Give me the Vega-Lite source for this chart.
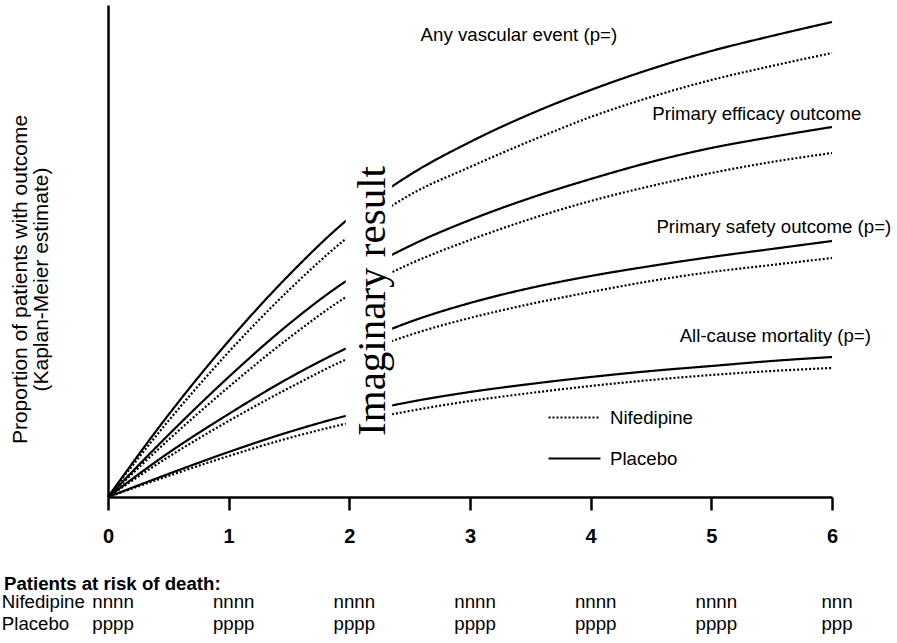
{
  "$schema": "https://vega.github.io/schema/vega-lite/v6.json",
  "width": 724,
  "height": 492,
  "autosize": "none",
  "padding": {"left": 108, "top": 5, "right": 65, "bottom": 146},
  "background": "white",
  "config": {"view": {"stroke": null}, "font": "Liberation Sans"},
  "datasets": {
    "curves": [
      {"year": 0, "pct": 0, "outcome": "Any vascular event", "arm": "Placebo"},
      {"year": 0.5, "pct": 8.2, "outcome": "Any vascular event", "arm": "Placebo"},
      {"year": 1, "pct": 15.6, "outcome": "Any vascular event", "arm": "Placebo"},
      {"year": 1.5, "pct": 22.2, "outcome": "Any vascular event", "arm": "Placebo"},
      {"year": 2, "pct": 27.9, "outcome": "Any vascular event", "arm": "Placebo"},
      {"year": 2.5, "pct": 32.2, "outcome": "Any vascular event", "arm": "Placebo"},
      {"year": 3, "pct": 35.5, "outcome": "Any vascular event", "arm": "Placebo"},
      {"year": 3.5, "pct": 38.3, "outcome": "Any vascular event", "arm": "Placebo"},
      {"year": 4, "pct": 40.7, "outcome": "Any vascular event", "arm": "Placebo"},
      {"year": 4.5, "pct": 42.8, "outcome": "Any vascular event", "arm": "Placebo"},
      {"year": 5, "pct": 44.6, "outcome": "Any vascular event", "arm": "Placebo"},
      {"year": 5.5, "pct": 46.1, "outcome": "Any vascular event", "arm": "Placebo"},
      {"year": 6, "pct": 47.5, "outcome": "Any vascular event", "arm": "Placebo"},
      {"year": 0, "pct": 0, "outcome": "Any vascular event", "arm": "Nifedipine"},
      {"year": 0.5, "pct": 7.6, "outcome": "Any vascular event", "arm": "Nifedipine"},
      {"year": 1, "pct": 14.5, "outcome": "Any vascular event", "arm": "Nifedipine"},
      {"year": 1.5, "pct": 20.7, "outcome": "Any vascular event", "arm": "Nifedipine"},
      {"year": 2, "pct": 26.1, "outcome": "Any vascular event", "arm": "Nifedipine"},
      {"year": 2.5, "pct": 30.2, "outcome": "Any vascular event", "arm": "Nifedipine"},
      {"year": 3, "pct": 33.0, "outcome": "Any vascular event", "arm": "Nifedipine"},
      {"year": 3.5, "pct": 35.6, "outcome": "Any vascular event", "arm": "Nifedipine"},
      {"year": 4, "pct": 38.0, "outcome": "Any vascular event", "arm": "Nifedipine"},
      {"year": 4.5, "pct": 40.0, "outcome": "Any vascular event", "arm": "Nifedipine"},
      {"year": 5, "pct": 41.7, "outcome": "Any vascular event", "arm": "Nifedipine"},
      {"year": 5.5, "pct": 43.1, "outcome": "Any vascular event", "arm": "Nifedipine"},
      {"year": 6, "pct": 44.4, "outcome": "Any vascular event", "arm": "Nifedipine"},
      {"year": 0, "pct": 0, "outcome": "Primary efficacy outcome", "arm": "Placebo"},
      {"year": 0.5, "pct": 6.2, "outcome": "Primary efficacy outcome", "arm": "Placebo"},
      {"year": 1, "pct": 12.0, "outcome": "Primary efficacy outcome", "arm": "Placebo"},
      {"year": 1.5, "pct": 17.3, "outcome": "Primary efficacy outcome", "arm": "Placebo"},
      {"year": 2, "pct": 21.8, "outcome": "Primary efficacy outcome", "arm": "Placebo"},
      {"year": 2.5, "pct": 25.1, "outcome": "Primary efficacy outcome", "arm": "Placebo"},
      {"year": 3, "pct": 27.7, "outcome": "Primary efficacy outcome", "arm": "Placebo"},
      {"year": 3.5, "pct": 29.9, "outcome": "Primary efficacy outcome", "arm": "Placebo"},
      {"year": 4, "pct": 31.8, "outcome": "Primary efficacy outcome", "arm": "Placebo"},
      {"year": 4.5, "pct": 33.5, "outcome": "Primary efficacy outcome", "arm": "Placebo"},
      {"year": 5, "pct": 34.9, "outcome": "Primary efficacy outcome", "arm": "Placebo"},
      {"year": 5.5, "pct": 36.0, "outcome": "Primary efficacy outcome", "arm": "Placebo"},
      {"year": 6, "pct": 37.0, "outcome": "Primary efficacy outcome", "arm": "Placebo"},
      {"year": 0, "pct": 0, "outcome": "Primary efficacy outcome", "arm": "Nifedipine"},
      {"year": 0.5, "pct": 5.7, "outcome": "Primary efficacy outcome", "arm": "Nifedipine"},
      {"year": 1, "pct": 11.0, "outcome": "Primary efficacy outcome", "arm": "Nifedipine"},
      {"year": 1.5, "pct": 15.9, "outcome": "Primary efficacy outcome", "arm": "Nifedipine"},
      {"year": 2, "pct": 20.2, "outcome": "Primary efficacy outcome", "arm": "Nifedipine"},
      {"year": 2.5, "pct": 23.3, "outcome": "Primary efficacy outcome", "arm": "Nifedipine"},
      {"year": 3, "pct": 25.7, "outcome": "Primary efficacy outcome", "arm": "Nifedipine"},
      {"year": 3.5, "pct": 27.8, "outcome": "Primary efficacy outcome", "arm": "Nifedipine"},
      {"year": 4, "pct": 29.6, "outcome": "Primary efficacy outcome", "arm": "Nifedipine"},
      {"year": 4.5, "pct": 31.1, "outcome": "Primary efficacy outcome", "arm": "Nifedipine"},
      {"year": 5, "pct": 32.4, "outcome": "Primary efficacy outcome", "arm": "Nifedipine"},
      {"year": 5.5, "pct": 33.5, "outcome": "Primary efficacy outcome", "arm": "Nifedipine"},
      {"year": 6, "pct": 34.4, "outcome": "Primary efficacy outcome", "arm": "Nifedipine"},
      {"year": 0, "pct": 0, "outcome": "Primary safety outcome", "arm": "Placebo"},
      {"year": 0.5, "pct": 4.4, "outcome": "Primary safety outcome", "arm": "Placebo"},
      {"year": 1, "pct": 8.3, "outcome": "Primary safety outcome", "arm": "Placebo"},
      {"year": 1.5, "pct": 11.9, "outcome": "Primary safety outcome", "arm": "Placebo"},
      {"year": 2, "pct": 15.0, "outcome": "Primary safety outcome", "arm": "Placebo"},
      {"year": 2.5, "pct": 17.5, "outcome": "Primary safety outcome", "arm": "Placebo"},
      {"year": 3, "pct": 19.4, "outcome": "Primary safety outcome", "arm": "Placebo"},
      {"year": 3.5, "pct": 20.9, "outcome": "Primary safety outcome", "arm": "Placebo"},
      {"year": 4, "pct": 22.1, "outcome": "Primary safety outcome", "arm": "Placebo"},
      {"year": 4.5, "pct": 23.1, "outcome": "Primary safety outcome", "arm": "Placebo"},
      {"year": 5, "pct": 24.0, "outcome": "Primary safety outcome", "arm": "Placebo"},
      {"year": 5.5, "pct": 24.8, "outcome": "Primary safety outcome", "arm": "Placebo"},
      {"year": 6, "pct": 25.6, "outcome": "Primary safety outcome", "arm": "Placebo"},
      {"year": 0, "pct": 0, "outcome": "Primary safety outcome", "arm": "Nifedipine"},
      {"year": 0.5, "pct": 4.0, "outcome": "Primary safety outcome", "arm": "Nifedipine"},
      {"year": 1, "pct": 7.6, "outcome": "Primary safety outcome", "arm": "Nifedipine"},
      {"year": 1.5, "pct": 10.9, "outcome": "Primary safety outcome", "arm": "Nifedipine"},
      {"year": 2, "pct": 13.9, "outcome": "Primary safety outcome", "arm": "Nifedipine"},
      {"year": 2.5, "pct": 16.2, "outcome": "Primary safety outcome", "arm": "Nifedipine"},
      {"year": 3, "pct": 17.9, "outcome": "Primary safety outcome", "arm": "Nifedipine"},
      {"year": 3.5, "pct": 19.3, "outcome": "Primary safety outcome", "arm": "Nifedipine"},
      {"year": 4, "pct": 20.5, "outcome": "Primary safety outcome", "arm": "Nifedipine"},
      {"year": 4.5, "pct": 21.6, "outcome": "Primary safety outcome", "arm": "Nifedipine"},
      {"year": 5, "pct": 22.5, "outcome": "Primary safety outcome", "arm": "Nifedipine"},
      {"year": 5.5, "pct": 23.2, "outcome": "Primary safety outcome", "arm": "Nifedipine"},
      {"year": 6, "pct": 23.9, "outcome": "Primary safety outcome", "arm": "Nifedipine"},
      {"year": 0, "pct": 0, "outcome": "All-cause mortality", "arm": "Placebo"},
      {"year": 0.5, "pct": 2.3, "outcome": "All-cause mortality", "arm": "Placebo"},
      {"year": 1, "pct": 4.5, "outcome": "All-cause mortality", "arm": "Placebo"},
      {"year": 1.5, "pct": 6.5, "outcome": "All-cause mortality", "arm": "Placebo"},
      {"year": 2, "pct": 8.2, "outcome": "All-cause mortality", "arm": "Placebo"},
      {"year": 2.5, "pct": 9.5, "outcome": "All-cause mortality", "arm": "Placebo"},
      {"year": 3, "pct": 10.5, "outcome": "All-cause mortality", "arm": "Placebo"},
      {"year": 3.5, "pct": 11.3, "outcome": "All-cause mortality", "arm": "Placebo"},
      {"year": 4, "pct": 12.0, "outcome": "All-cause mortality", "arm": "Placebo"},
      {"year": 4.5, "pct": 12.6, "outcome": "All-cause mortality", "arm": "Placebo"},
      {"year": 5, "pct": 13.1, "outcome": "All-cause mortality", "arm": "Placebo"},
      {"year": 5.5, "pct": 13.6, "outcome": "All-cause mortality", "arm": "Placebo"},
      {"year": 6, "pct": 14.0, "outcome": "All-cause mortality", "arm": "Placebo"},
      {"year": 0, "pct": 0, "outcome": "All-cause mortality", "arm": "Nifedipine"},
      {"year": 0.5, "pct": 2.1, "outcome": "All-cause mortality", "arm": "Nifedipine"},
      {"year": 1, "pct": 4.1, "outcome": "All-cause mortality", "arm": "Nifedipine"},
      {"year": 1.5, "pct": 5.9, "outcome": "All-cause mortality", "arm": "Nifedipine"},
      {"year": 2, "pct": 7.4, "outcome": "All-cause mortality", "arm": "Nifedipine"},
      {"year": 2.5, "pct": 8.6, "outcome": "All-cause mortality", "arm": "Nifedipine"},
      {"year": 3, "pct": 9.6, "outcome": "All-cause mortality", "arm": "Nifedipine"},
      {"year": 3.5, "pct": 10.4, "outcome": "All-cause mortality", "arm": "Nifedipine"},
      {"year": 4, "pct": 11.1, "outcome": "All-cause mortality", "arm": "Nifedipine"},
      {"year": 4.5, "pct": 11.7, "outcome": "All-cause mortality", "arm": "Nifedipine"},
      {"year": 5, "pct": 12.2, "outcome": "All-cause mortality", "arm": "Nifedipine"},
      {"year": 5.5, "pct": 12.6, "outcome": "All-cause mortality", "arm": "Nifedipine"},
      {"year": 6, "pct": 12.9, "outcome": "All-cause mortality", "arm": "Nifedipine"}
    ],
    "risk": [
      {"arm": "Nifedipine", "year": 0, "count": "nnnn"},
      {"arm": "Nifedipine", "year": 1, "count": "nnnn"},
      {"arm": "Nifedipine", "year": 2, "count": "nnnn"},
      {"arm": "Nifedipine", "year": 3, "count": "nnnn"},
      {"arm": "Nifedipine", "year": 4, "count": "nnnn"},
      {"arm": "Nifedipine", "year": 5, "count": "nnnn"},
      {"arm": "Nifedipine", "year": 6, "count": "nnn"},
      {"arm": "Placebo", "year": 0, "count": "pppp"},
      {"arm": "Placebo", "year": 1, "count": "pppp"},
      {"arm": "Placebo", "year": 2, "count": "pppp"},
      {"arm": "Placebo", "year": 3, "count": "pppp"},
      {"arm": "Placebo", "year": 4, "count": "pppp"},
      {"arm": "Placebo", "year": 5, "count": "pppp"},
      {"arm": "Placebo", "year": 6, "count": "ppp"}
    ]
  },
  "layer": [
    {
      "data": {"name": "curves"},
      "mark": {"type": "line", "interpolate": "monotone", "color": "black", "strokeWidth": 2.2},
      "encoding": {
        "x": {
          "field": "year", "type": "quantitative",
          "scale": {"domain": [0, 6], "nice": false, "zero": false},
          "axis": {
            "values": [0, 1, 2, 3, 4, 5, 6], "format": "d", "grid": false, "title": null,
            "domainColor": "black", "domainWidth": 2.5,
            "tickColor": "black", "tickWidth": 2.5, "tickSize": 13,
            "labelFont": "Liberation Sans", "labelFontWeight": "bold", "labelFontSize": 20,
            "labelColor": "black", "labelPadding": 16, "labelFlush": false
          }
        },
        "y": {
          "field": "pct", "type": "quantitative",
          "scale": {"domain": [0, 49.2], "nice": false},
          "axis": {
            "ticks": false, "labels": false, "grid": false,
            "domainColor": "black", "domainWidth": 2.5,
            "title": ["Proportion of patients with outcome", "(Kaplan-Meier estimate)"],
            "titleFont": "Liberation Sans", "titleFontSize": 21, "titleFontWeight": "normal",
            "titleColor": "black", "titleX": -88, "titleY": 274, "titleAngle": 270,
            "titleAlign": "center", "titleBaseline": "middle", "titleLineHeight": 21
          }
        },
        "detail": {"field": "outcome", "type": "nominal"},
        "strokeDash": {
          "field": "arm", "type": "nominal",
          "scale": {"domain": ["Nifedipine", "Placebo"], "range": [[2, 2], [1, 0]]},
          "legend": {
            "orient": "none", "legendX": 439, "legendY": 385, "title": null,
            "symbolType": "stroke", "symbolSize": 2700, "symbolStrokeWidth": 2.2,
            "symbolStrokeColor": "black",
            "labelFont": "Liberation Sans", "labelFontSize": 18.67, "labelColor": "black",
            "labelOffset": 8, "rowPadding": 3, "padding": 0
          }
        }
      }
    },
    {
      "data": {"values": [{}]},
      "mark": {"type": "rect", "color": "white"},
      "encoding": {
        "x": {"datum": 1.97}, "x2": {"datum": 2.355},
        "y": {"datum": 5.5}, "y2": {"datum": 33}
      }
    },
    {
      "data": {"values": [{}]},
      "mark": {"type": "text", "font": "Liberation Serif", "fontSize": 41, "angle": 270, "align": "center", "baseline": "alphabetic", "color": "black"},
      "encoding": {"x": {"datum": 2.295}, "y": {"datum": 19.6}, "text": {"value": "Imaginary result"}}
    },
    {
      "data": {"values": [{}]},
      "mark": {"type": "text", "fontSize": 18.67, "align": "center", "baseline": "alphabetic", "color": "black"},
      "encoding": {"x": {"datum": 3.405}, "y": {"datum": 45.6}, "text": {"value": "Any vascular event (p=)"}}
    },
    {
      "data": {"values": [{}]},
      "mark": {"type": "text", "fontSize": 18.67, "align": "center", "baseline": "alphabetic", "color": "black"},
      "encoding": {"x": {"datum": 5.377}, "y": {"datum": 37.7}, "text": {"value": "Primary efficacy outcome"}}
    },
    {
      "data": {"values": [{}]},
      "mark": {"type": "text", "fontSize": 18.67, "align": "center", "baseline": "alphabetic", "color": "black"},
      "encoding": {"x": {"datum": 5.518}, "y": {"datum": 26.4}, "text": {"value": "Primary safety outcome (p=)"}}
    },
    {
      "data": {"values": [{}]},
      "mark": {"type": "text", "fontSize": 18.67, "align": "center", "baseline": "alphabetic", "color": "black"},
      "encoding": {"x": {"datum": 5.53}, "y": {"datum": 15.5}, "text": {"value": "All-cause mortality (p=)"}}
    },
    {
      "data": {"values": [{}]},
      "mark": {"type": "text", "fontSize": 18.67, "fontWeight": "bold", "align": "left", "baseline": "alphabetic", "color": "black"},
      "encoding": {"x": {"datum": -0.862}, "y": {"datum": -9.3}, "text": {"value": "Patients at risk of death:"}}
    },
    {
      "data": {"values": [{}]},
      "mark": {"type": "text", "fontSize": 18.67, "align": "left", "baseline": "alphabetic", "color": "black"},
      "encoding": {"x": {"datum": -0.88}, "y": {"datum": -11.1}, "text": {"value": "Nifedipine"}}
    },
    {
      "data": {"values": [{}]},
      "mark": {"type": "text", "fontSize": 18.67, "align": "left", "baseline": "alphabetic", "color": "black"},
      "encoding": {"x": {"datum": -0.88}, "y": {"datum": -13.3}, "text": {"value": "Placebo"}}
    },
    {
      "data": {"name": "risk"},
      "transform": [{"filter": "datum.arm === 'Nifedipine'"}],
      "mark": {"type": "text", "fontSize": 18.67, "align": "center", "dx": 5, "baseline": "alphabetic", "color": "black"},
      "encoding": {"x": {"field": "year", "type": "quantitative"}, "y": {"datum": -11.1}, "text": {"field": "count"}}
    },
    {
      "data": {"name": "risk"},
      "transform": [{"filter": "datum.arm === 'Placebo'"}],
      "mark": {"type": "text", "fontSize": 18.67, "align": "center", "dx": 5, "baseline": "alphabetic", "color": "black"},
      "encoding": {"x": {"field": "year", "type": "quantitative"}, "y": {"datum": -13.3}, "text": {"field": "count"}}
    }
  ]
}
